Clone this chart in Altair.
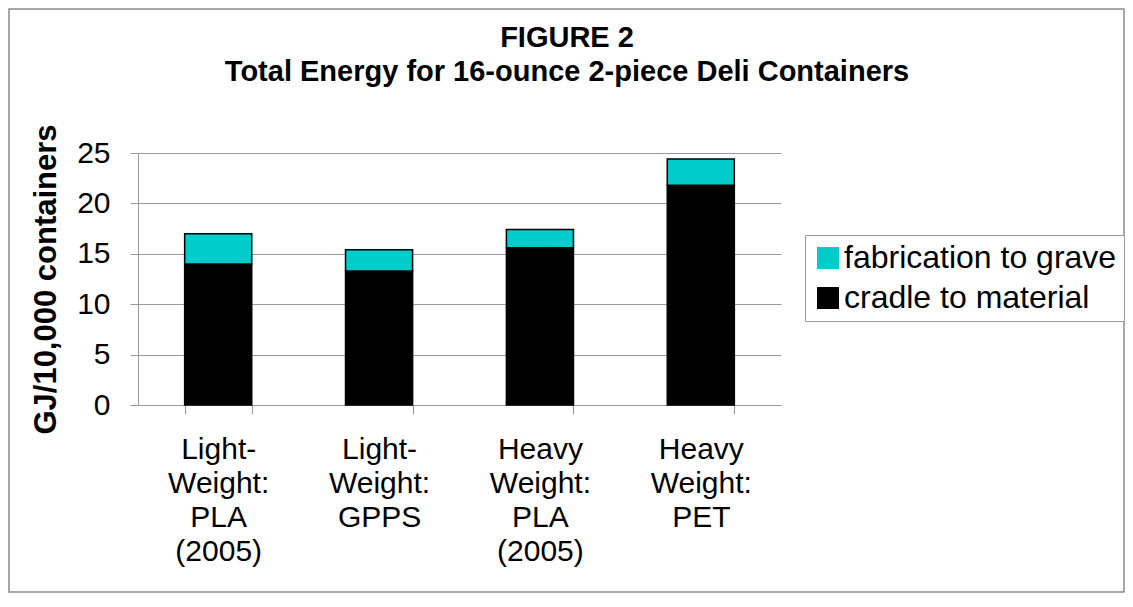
import altair as alt
import pandas as pd

categories = ["Light-|Weight:|PLA|(2005)", "Light-|Weight:|GPPS", "Heavy|Weight:|PLA|(2005)", "Heavy|Weight:|PET"]
cradle_to_material = [14.0, 13.3, 15.6, 21.8]
fabrication_to_grave = [3.0, 2.1, 1.8, 2.6]
series = ["fabrication to grave", "cradle to material"]
colors = ["#00CCCC", "#000000"]
y_ticks = [0, 5, 10, 15, 20, 25]
title_lines = ["FIGURE 2", "Total Energy for 16-ounce 2-piece Deli Containers"]
y_title = "GJ/10,000 containers"

FONT = "Liberation Sans"
GRAY = "#9a9a9a"

rows = []
for c, a, b in zip(categories, cradle_to_material, fabrication_to_grave):
    rows.append({"category": c, "component": series[1], "value": a, "ord": 0})
    rows.append({"category": c, "component": series[0], "value": b, "ord": 1})
df = pd.DataFrame(rows)

bars = alt.Chart(df).mark_bar(stroke="black", strokeWidth=1.5).encode(
    x=alt.X(
        "category:N",
        sort=categories,
        scale=alt.Scale(paddingInner=0.583, paddingOuter=0.29),
        axis=alt.Axis(
            title=None,
            labelExpr="split(datum.label, '|')",
            labelAngle=0,
            labelFont=FONT,
            labelFontSize=30,
            labelColor="black",
            labelLineHeight=34,
            labelBaseline="top",
            labelPadding=20,
            tickBand="extent",
            tickSize=9,
            tickColor=GRAY,
            domainColor=GRAY,
            grid=False,
        ),
    ),
    y=alt.Y(
        "value:Q",
        stack="zero",
        scale=alt.Scale(domain=[0, 25], nice=False),
        axis=alt.Axis(
            values=y_ticks,
            title=y_title,
            titleFont=FONT,
            titleFontSize=31,
            titleFontWeight="bold",
            titleColor="black",
            titleAngle=-90,
            titleX=-92,
            titleY=126,
            titleAlign="center",
            titleBaseline="middle",
            labelFont=FONT,
            labelFontSize=30,
            labelColor="black",
            labelPadding=20,
            tickSize=8,
            tickColor=GRAY,
            domainColor=GRAY,
            grid=True,
            gridColor=GRAY,
            gridWidth=1,
        ),
    ),
    color=alt.Color(
        "component:N",
        scale=alt.Scale(domain=series, range=colors),
        legend=alt.Legend(
            title=None,
            orient="none",
            legendX=667,
            legendY=82,
            labelFont=FONT,
            labelFontSize=32,
            labelColor="black",
            labelOffset=0,
            symbolType="square",
            symbolSize=484,
            symbolStrokeWidth=0,
            symbolOpacity=1,
            strokeColor=GRAY,
            fillColor="white",
            padding=7,
            rowPadding=8,
            labelLimit=400,
        ),
    ),
    order=alt.Order("ord:Q"),
)

frame = alt.Chart(pd.DataFrame({"f": [0]})).mark_rect(
    filled=False, stroke="#8c8c8c", strokeWidth=1.5
).encode(
    x=alt.value(-129), x2=alt.value(986), y=alt.value(-144), y2=alt.value(439)
)

title = alt.Chart(pd.DataFrame({"t": ["\n".join(title_lines)]})).mark_text(
    font=FONT,
    fontSize=29,
    fontWeight="bold",
    color="black",
    align="center",
    baseline="alphabetic",
    lineBreak="\n",
    lineHeight=34,
).encode(
    text="t:N", x=alt.value(429), y=alt.value(-106)
)

chart = alt.layer(frame, bars, title).properties(
    width=643,
    height=252,
    autosize=alt.AutoSizeParams(type="none"),
    padding={"left": 130, "top": 145, "right": 344, "bottom": 188},
    background="white",
).configure_view(stroke=None)

chart.save("out.html", embed_options={"renderer": "svg", "actions": False})
